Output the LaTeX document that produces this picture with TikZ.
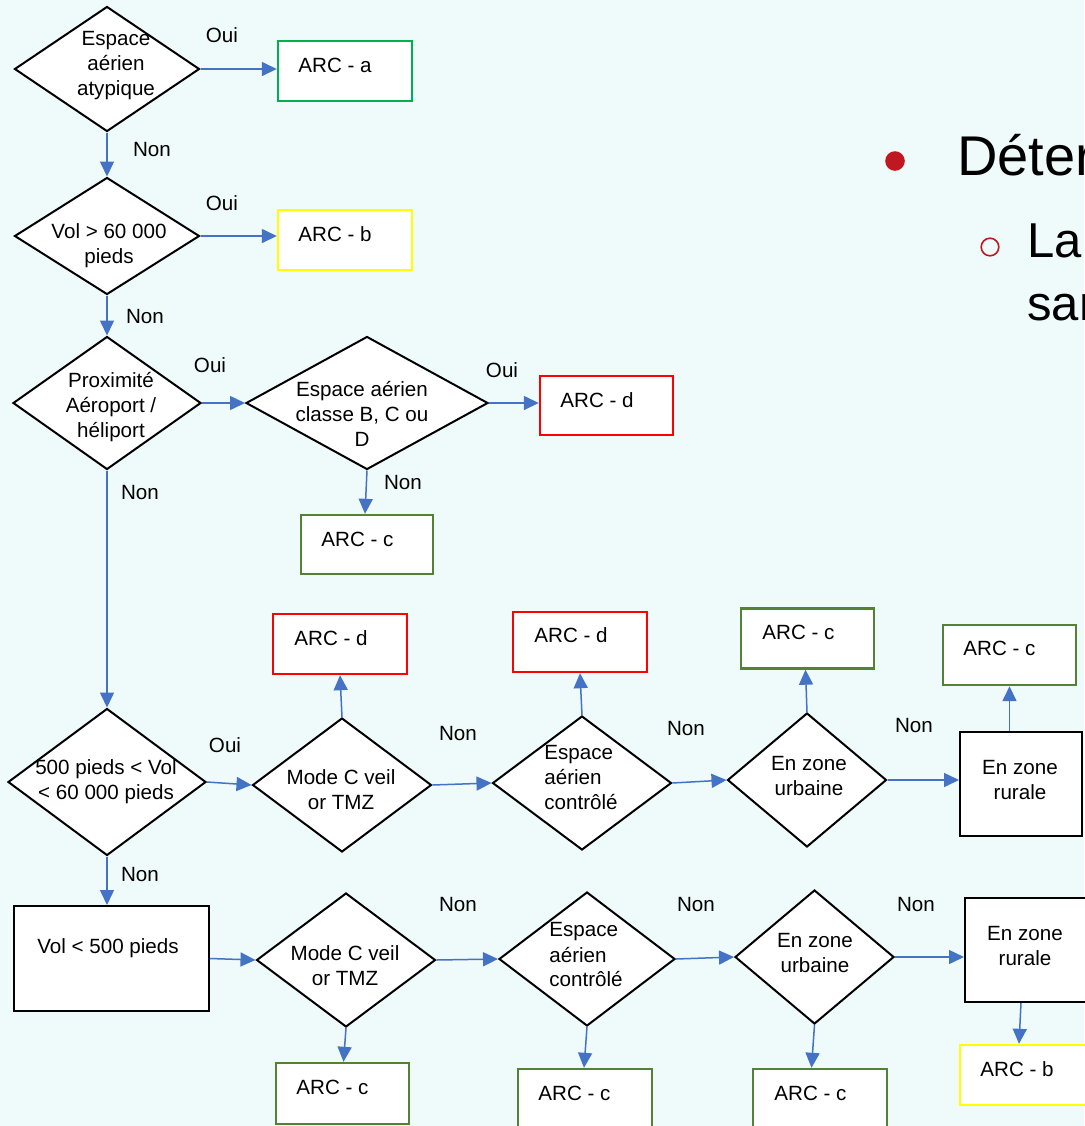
\documentclass[tikz,border=0pt]{standalone}
\usepackage{fontspec}
\setmainfont{Liberation Sans}
\usetikzlibrary{arrows.meta,shapes.geometric,calc}
\definecolor{bgc}{RGB}{239,250,250}
\definecolor{arrowblue}{RGB}{68,114,196}
\definecolor{brightgreen}{RGB}{0,176,80}
\definecolor{olivegreen}{RGB}{84,130,53}
\definecolor{arcyellow}{RGB}{255,255,0}
\definecolor{arcred}{RGB}{255,0,0}
\definecolor{bulletred}{RGB}{192,24,32}
\tikzset{
  dia/.style 2 args={diamond, draw=black, fill=white, line width=1pt, inner sep=0pt,
    minimum width=#1*0.5pt, minimum height=#2*0.5pt},
  plainbox/.style={rectangle, draw=black, fill=white, line width=1pt, inner sep=0pt},
  arcbox/.style={rectangle, draw=#1, fill=white, line width=1.2pt, inner sep=0pt},
  txt/.style={font=\fontsize{10.3}{12.5}\selectfont, align=center, inner sep=0pt},
  lbl/.style={font=\fontsize{10.3}{12.5}\selectfont, inner sep=0pt},
  flow/.style={draw=arrowblue, line width=0.75pt, -{Triangle[length=7.5pt,width=7pt]}},
}
\begin{document}
\begin{tikzpicture}[x=0.5pt,y=-0.5pt]
\useasboundingbox (0,0) rectangle (1084,1126);
\fill[bgc] (0,0) rectangle (1084,1126);

% ---- right-hand slide text (cut by the page edge, as in the reference) ----
\fill[bulletred] (895,161) circle[radius=4.9pt];
\draw[bulletred, line width=0.8pt] (990,247) circle[radius=4.4pt];
\node[anchor=base west, inner sep=0pt, font=\fontsize{28}{32}\selectfont] (t1) at (957,175) {Déterm};
\node[anchor=base west, inner sep=0pt, font=\fontsize{24.5}{30}\selectfont] (t2) at (1027,257) {La};
\node[anchor=base west, inner sep=0pt, font=\fontsize{24.5}{30}\selectfont] (t3) at (1027,320) {san};

% ---- top column ----
\node[dia={185}{125}] (d1) at (107,69) {};
\node[txt] (d1t) at (116,66) {Espace\\aérien\\atypique};
\node[arcbox=brightgreen, minimum width=67pt, minimum height=30pt] (ra) at (345,71) {};
\node[lbl, anchor=west] (rat) at (298,65) {ARC - a};

\node[dia={185}{117}] (d2) at (107,236) {};
\node[txt] (d2t) at (109,246) {Vol > 60 000\\pieds};
\node[arcbox=arcyellow, minimum width=67pt, minimum height=30pt] (rb) at (345,240) {};
\node[lbl, anchor=west] (rbt) at (298,234) {ARC - b};

\node[dia={188}{133}] (d3) at (107,403) {};
\node[txt] (d3t) at (111,407) {Proximité\\Aéroport /\\héliport};

\node[dia={242}{133}] (d4) at (367,403) {};
\node[txt] (d4t) at (362,414) {Espace aérien\\classe B, C ou\\D};
\node[arcbox=arcred, minimum width=66.5pt, minimum height=29.5pt] (rd1) at (606.5,405.5) {};
\node[lbl, anchor=west] (rd1t) at (560,400) {ARC - d};
\node[arcbox=olivegreen, minimum width=66pt, minimum height=29.5pt] (rc1) at (367,544.5) {};
\node[lbl, anchor=west] (rc1t) at (321,539) {ARC - c};

% ---- middle row ----
\node[dia={198}{147}] (d5) at (107,782) {};
\node[txt] (d5t) at (106,782) {500 pieds < Vol\\< 60 000 pieds};

\node[dia={179}{134}] (d6) at (342,785) {};
\node[txt] (d6t) at (341,790) {Mode C veil\\or TMZ};
\node[arcbox=arcred, minimum width=67pt, minimum height=30pt] (rd2) at (340,644) {};
\node[lbl, anchor=west] (rd2t) at (294,638) {ARC - d};

\node[dia={179}{134}] (d7) at (582,783) {};
\node[txt, align=left, anchor=west] (d7t) at (544,778) {Espace\\aérien\\contrôlé};
\node[arcbox=arcred, minimum width=67pt, minimum height=30pt] (rd3) at (580,642) {};
\node[lbl, anchor=west] (rd3t) at (534,635) {ARC - d};

\node[dia={159}{134}] (d8) at (807,780) {};
\node[txt] (d8t) at (809,776) {En zone\\urbaine};
\node[arcbox=olivegreen, minimum width=66.5pt, minimum height=30pt] (rc2) at (807.5,638.5) {};
\node[lbl, anchor=west] (rc2t) at (762,632) {ARC - c};

\node[plainbox, minimum width=61pt, minimum height=52pt] (rur1) at (1021,784) {};
\node[txt] (rur1t) at (1020,780) {En zone\\rurale};
\node[arcbox=olivegreen, minimum width=66.5pt, minimum height=30pt] (rc3) at (1009.5,655) {};
\node[lbl, anchor=west] (rc3t) at (963,648) {ARC - c};

% ---- bottom row ----
\node[plainbox, minimum width=97.5pt, minimum height=52.5pt] (v500) at (111.5,958.5) {};
\node[txt] (v500t) at (108,948) {Vol < 500 pieds};

\node[dia={179}{134}] (d9) at (346,960) {};
\node[txt] (d9t) at (345,966) {Mode C veil\\or TMZ};
\node[arcbox=olivegreen, minimum width=66.5pt, minimum height=30.5pt] (rc4) at (342.5,1093.5) {};
\node[lbl, anchor=west] (rc4t) at (296,1087) {ARC - c};

\node[dia={176}{134}] (d10) at (587,959) {};
\node[txt, align=left, anchor=west] (d10t) at (549,955) {Espace\\aérien\\contrôlé};
\node[arcbox=olivegreen, minimum width=67pt, minimum height=33pt] (rc5) at (585,1102) {};
\node[lbl, anchor=west] (rc5t) at (538,1093) {ARC - c};

\node[dia={159}{134}] (d11) at (814.5,957) {};
\node[txt] (d11t) at (815,953) {En zone\\urbaine};
\node[arcbox=olivegreen, minimum width=67pt, minimum height=33pt] (rc6) at (820,1102) {};
\node[lbl, anchor=west] (rc6t) at (774,1093) {ARC - c};

\node[plainbox, minimum width=62pt, minimum height=52pt] (rur2) at (1027,950) {};
\node[txt] (rur2t) at (1025,946) {En zone\\rurale};
\node[arcbox=arcyellow, minimum width=65pt, minimum height=30pt] (rb2) at (1025,1075) {};
\node[lbl, anchor=west] (rb2t) at (980,1069) {ARC - b};

% ---- connectors ----
\draw[flow] (d1.east) -- (d1.east -| ra.west);
\draw[flow] (d1.south) -- (d2.north);
\draw[flow] (d2.east) -- (d2.east -| rb.west);
\draw[flow] (d2.south) -- (d3.north);
\draw[flow] (d3.east) -- (d4.west);
\draw[flow] (d4.east) -- (d4.east -| rd1.west);
\draw[flow] (d4.south) -- ([xshift=-1pt]rc1.north);
\draw[flow] (d3.south) -- (d5.north);

\draw[flow] (d5.east) -- (d6.west);
\draw[flow] (d6.north) -- (rd2.south);
\draw[flow] (d6.east) -- (d7.west);
\draw[flow] (d7.north) -- (rd3.south);
\draw[flow] (d7.east) -- (d8.west);
\draw[flow] (d8.north) -- ([xshift=-1pt]rc2.south);
\draw[flow] (d8.east) -- (d8.east -| rur1.west);
\draw[flow] (rc3.south |- rur1.north) -- (rc3.south);

\draw[flow] (d5.south) -- (d5.south |- v500.north);
\draw[flow] (v500.east) -- (d9.west);
\draw[flow] (d9.south) -- ([xshift=0.5pt]rc4.north);
\draw[flow] (d9.east) -- (d10.west);
\draw[flow] (d10.south) -- ([xshift=-0.5pt]rc5.north);
\draw[flow] (d10.east) -- (d11.west);
\draw[flow] (d11.south) -- ([xshift=-1.5pt]d11.south |- rc6.north);
\draw[flow] (d11.east) -- (d11.east -| rur2.west);
\draw[flow] ([xshift=-3pt]rur2.south) -- ([xshift=-4pt]rur2.south |- rb2.north);

% ---- labels ----
\node[lbl] (l1) at (222,35) {Oui};
\node[lbl] (l2) at (152,150) {Non};
\node[lbl] (l3) at (222,203) {Oui};
\node[lbl] (l4) at (145,317) {Non};
\node[lbl] (l5) at (210,365) {Oui};
\node[lbl] (l6) at (502,370) {Oui};
\node[lbl] (l7) at (403,483) {Non};
\node[lbl] (l8) at (140,493) {Non};
\node[lbl] (l9) at (225,745) {Oui};
\node[lbl] (l10) at (458,734) {Non};
\node[lbl] (l11) at (686,729) {Non};
\node[lbl] (l12) at (914,726) {Non};
\node[lbl] (l13) at (140,875) {Non};
\node[lbl] (l14) at (458,905) {Non};
\node[lbl] (l15) at (696,905) {Non};
\node[lbl] (l16) at (916,905) {Non};
\end{tikzpicture}
\end{document}
